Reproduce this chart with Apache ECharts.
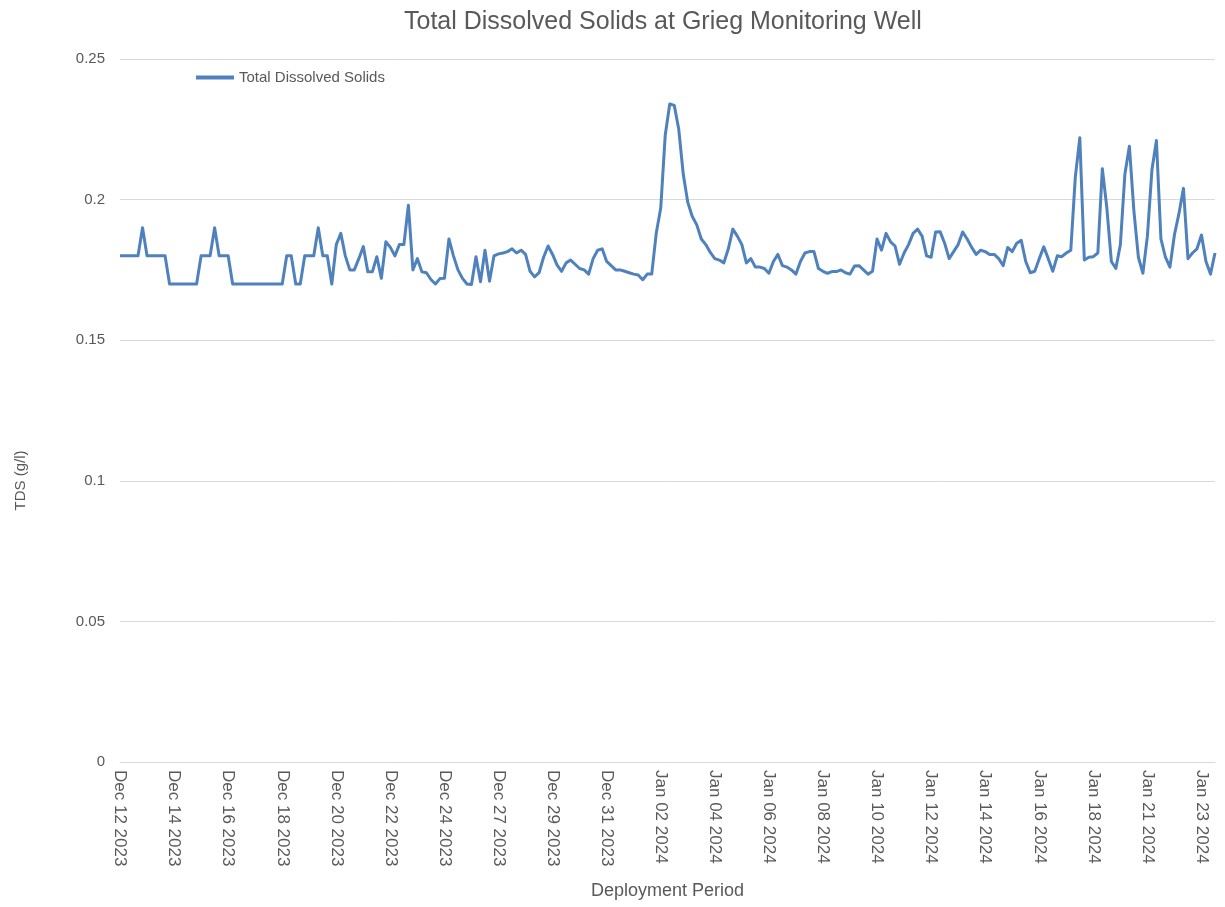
<!DOCTYPE html>
<html>
<head>
<meta charset="utf-8">
<script src="https://cdn.jsdelivr.net/npm/echarts@6/dist/echarts.min.js"></script>
<style>
html,body{margin:0;padding:0;background:#fff;}
#chart{width:1225px;height:907px;}
</style>
</head>
<body>
<div id="chart"></div>
<script>
const chartTitle = 'Total Dissolved Solids at Grieg Monitoring Well';
const seriesName = 'Total Dissolved Solids';
const xAxisName = 'Deployment Period';
const yAxisName = 'TDS (g/l)';
const pointsPerTick = 12;
const tickLabels = [
  'Dec 12 2023','Dec 14 2023','Dec 16 2023','Dec 18 2023','Dec 20 2023','Dec 22 2023',
  'Dec 24 2023','Dec 27 2023','Dec 29 2023','Dec 31 2023','Jan 02 2024','Jan 04 2024',
  'Jan 06 2024','Jan 08 2024','Jan 10 2024','Jan 12 2024','Jan 14 2024','Jan 16 2024',
  'Jan 18 2024','Jan 21 2024','Jan 23 2024'
];
const tdsValues = [
  0.18,0.18,0.18,0.18,0.18,0.19,0.18,0.18,0.18,0.18,
  0.18,0.17,0.17,0.17,0.17,0.17,0.17,0.17,0.18,0.18,
  0.18,0.19,0.18,0.18,0.18,0.17,0.17,0.17,0.17,0.17,
  0.17,0.17,0.17,0.17,0.17,0.17,0.17,0.18,0.18,0.17,
  0.17,0.18,0.18,0.18,0.19,0.18,0.18,0.17,0.184,0.188,
  0.180,0.175,0.175,0.179,0.1833,0.1743,0.1743,0.1797,0.172,0.185,
  0.183,0.18,0.184,0.184,0.198,0.175,0.179,0.1743,0.174,0.1716,
  0.170,0.1719,0.172,0.186,0.180,0.175,0.172,0.170,0.1698,0.1797,
  0.1708,0.182,0.171,0.180,0.1807,0.181,0.1815,0.1825,0.181,0.182,
  0.1805,0.1745,0.1725,0.174,0.1795,0.1835,0.1805,0.1767,0.1745,0.1775,
  0.1785,0.177,0.1755,0.175,0.1735,0.179,0.182,0.1825,0.178,0.1765,
  0.175,0.175,0.1745,0.174,0.1735,0.1732,0.1715,0.1735,0.1735,0.188,
  0.197,0.223,0.234,0.2335,0.225,0.209,0.199,0.194,0.191,0.186,
  0.184,0.1812,0.179,0.1785,0.1775,0.1825,0.1895,0.187,0.184,0.1775,
  0.179,0.176,0.176,0.1755,0.1738,0.178,0.1805,0.1765,0.176,0.175,
  0.1735,0.178,0.181,0.1815,0.1815,0.1755,0.1745,0.1738,0.1744,0.1744,
  0.175,0.174,0.1735,0.1764,0.1765,0.175,0.1735,0.1745,0.186,0.182,
  0.188,0.185,0.1835,0.177,0.181,0.184,0.188,0.1895,0.187,0.180,
  0.1795,0.1885,0.1886,0.1845,0.179,0.1815,0.184,0.1885,0.186,0.183,
  0.1805,0.182,0.1815,0.1805,0.1805,0.179,0.1765,0.183,0.1815,0.1845,
  0.1855,0.178,0.174,0.1745,0.179,0.1832,0.179,0.1745,0.180,0.1797,
  0.181,0.182,0.208,0.222,0.1785,0.1795,0.1797,0.181,0.211,0.197,
  0.178,0.1755,0.184,0.209,0.219,0.196,0.1795,0.1738,0.187,0.2105,
  0.221,0.186,0.1795,0.176,0.1875,0.195,0.204,0.179,0.181,0.1825,
  0.1874,0.178,0.1735,0.181
];

const categories = tdsValues.map((v, i) =>
  (i % pointsPerTick === 0 && tickLabels[i / pointsPerTick]) ? tickLabels[i / pointsPerTick] : ('p' + i));

const FONT = 'Liberation Sans';
const GRAY = '#595959';
const chart = echarts.init(document.getElementById('chart'), null, {renderer: 'canvas'});
chart.setOption({
  animation: false,
  backgroundColor: '#ffffff',
  title: {
    text: chartTitle,
    left: 399,
    top: 5,
    textStyle: {fontFamily: FONT, fontSize: 25, fontWeight: 'normal', color: GRAY}
  },
  legend: {
    left: 191,
    top: 65,
    icon: 'rect',
    itemWidth: 38,
    itemHeight: 4,
    itemGap: 10,
    textStyle: {fontFamily: FONT, fontSize: 15, color: GRAY},
    data: [seriesName]
  },
  grid: {left: 120, right: 10, top: 59, bottom: 145, containLabel: false},
  xAxis: {
    type: 'category',
    data: categories,
    boundaryGap: false,
    name: xAxisName,
    nameLocation: 'middle',
    nameGap: 120,
    nameTextStyle: {fontFamily: FONT, fontSize: 18, color: GRAY},
    axisLine: {show: true, lineStyle: {color: '#d9d9d9', width: 1}},
    axisTick: {show: false},
    splitLine: {show: false},
    axisLabel: {
      rotate: -90,
      margin: 8,
      fontFamily: FONT,
      fontSize: 17,
      color: GRAY,
      interval: function (idx) { return idx % pointsPerTick === 0; },
      formatter: function (v) { return v.charAt(0) === 'p' ? '' : v; }
    }
  },
  yAxis: {
    type: 'value',
    min: 0,
    max: 0.25,
    interval: 0.05,
    name: yAxisName,
    nameLocation: 'middle',
    nameRotate: 90,
    nameGap: 92,
    nameTextStyle: {fontFamily: FONT, fontSize: 15, color: GRAY, padding: [0, 140, 0, 0]},
    axisLine: {show: false},
    axisTick: {show: false},
    splitLine: {show: true, lineStyle: {color: '#d9d9d9', width: 1}},
    axisLabel: {fontFamily: FONT, fontSize: 15, color: GRAY, margin: 15}
  },
  series: [{
    name: seriesName,
    type: 'line',
    data: tdsValues,
    symbol: 'none',
    smooth: false,
    lineStyle: {color: '#4f81bd', width: 3, join: 'round'},
    itemStyle: {color: '#4f81bd'}
  }]
});
</script>
</body>
</html>
